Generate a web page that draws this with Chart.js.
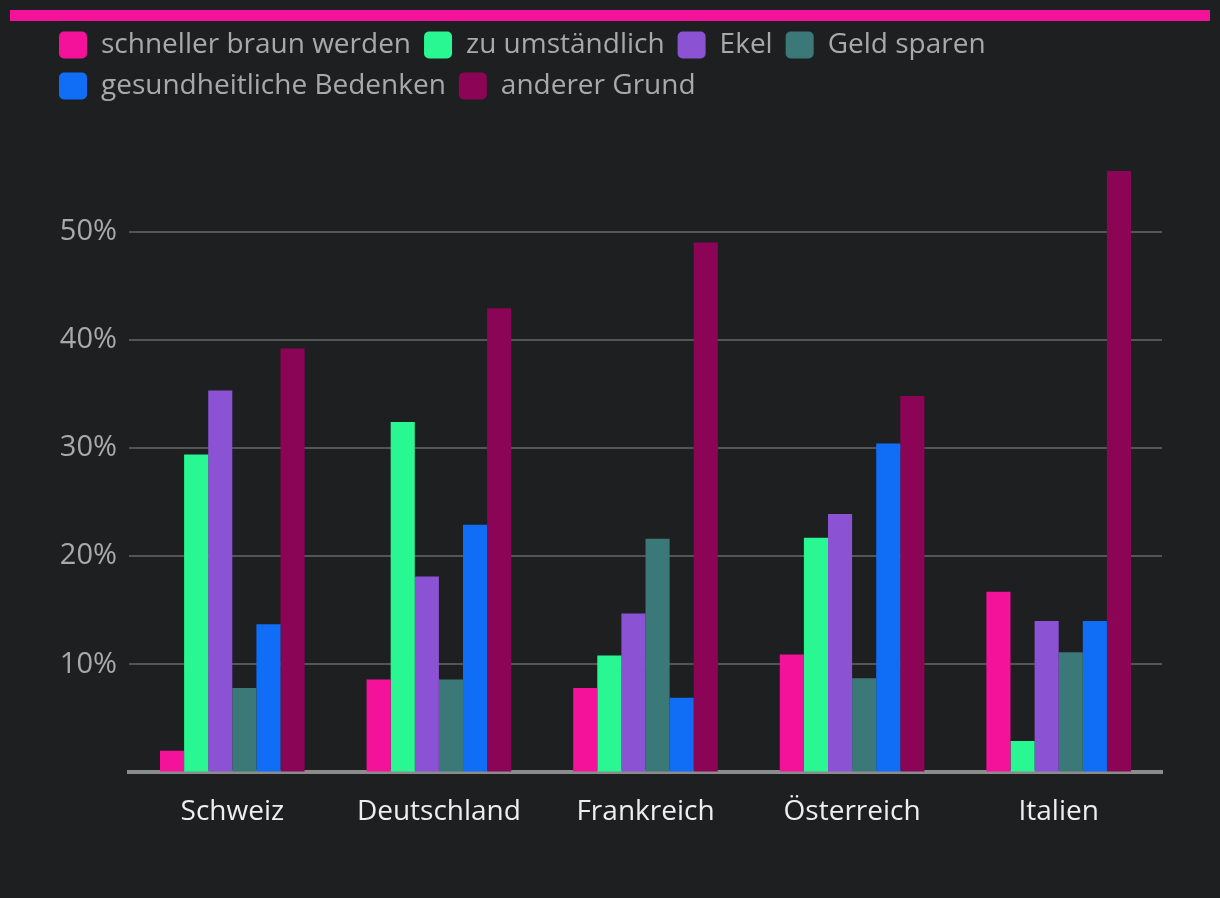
<!DOCTYPE html>
<html>
<head>
<meta charset="utf-8">
<script src="https://cdn.jsdelivr.net/npm/chart.js@4"></script>
<style>
    html, body { margin: 0; padding: 0; background: #1e1f21; }
    #wrap { position: relative; width: 1220px; height: 898px; }
    #topbar { position: absolute; left: 10px; top: 10px; width: 1200px; height: 11px; background: #f5129a; }
    canvas { position: absolute; left: 0; top: 0; }
</style>
</head>
<body>
<div id="wrap">
    <div id="topbar"></div>
    <canvas id="chart" width="1220" height="898"></canvas>
</div>
<script>
// --- data ---
const countries = ['Schweiz', 'Deutschland', 'Frankreich', 'Österreich', 'Italien'];
const schnellerBraun = [2.0, 8.6, 7.8, 10.9, 16.7];
const zuUmstaendlich = [29.4, 32.4, 10.8, 21.7, 2.9];
const ekel = [35.3, 18.1, 14.7, 23.9, 14.0];
const geldSparen = [7.8, 8.6, 21.6, 8.7, 11.1];
const gesundheit = [13.7, 22.9, 6.9, 30.4, 14.0];
const andererGrund = [39.2, 42.9, 49.0, 34.8, 55.6];

const seriesLabels = ['schneller braun werden', 'zu umständlich', 'Ekel', 'Geld sparen', 'gesundheitliche Bedenken', 'anderer Grund'];
const seriesValues = [schnellerBraun, zuUmstaendlich, ekel, geldSparen, gesundheit, andererGrund];
const seriesColors = ['#f5129a', '#29f792', '#8b52d3', '#3b7878', '#0f6ef5', '#8c0456'];

const yMax = Math.max(...seriesValues.flat());
const FONT = "'Open Sans', 'Noto Sans', sans-serif";

// legend spacing tweak: push the plot area down below the legend
const legendGap = {
    id: 'legendGap',
    beforeInit(chart) {
        const fit = chart.legend.fit;
        chart.legend.fit = function () {
            fit.call(this);
            this.height += 61;
        };
    }
};

new Chart(document.getElementById('chart'), {
    type: 'bar',
    data: {
        labels: countries,
        datasets: seriesLabels.map((label, i) => ({
            label: label,
            data: seriesValues[i],
            backgroundColor: seriesColors[i],
            barPercentage: 1.0,
            categoryPercentage: 0.7
        }))
    },
    options: {
        responsive: false,
        animation: false,
        layout: { padding: { left: 46, right: 58, top: 18, bottom: 54 } },
        plugins: {
            legend: {
                position: 'top',
                align: 'start',
                labels: {
                    boxWidth: 28,
                    boxHeight: 27,
                    padding: 13,
                    useBorderRadius: true,
                    borderRadius: 5,
                    color: '#a9a9a9',
                    font: { family: FONT, size: 28 }
                }
            },
            tooltip: { enabled: false }
        },
        scales: {
            x: {
                grid: { display: false },
                border: { display: true, color: '#8c8c8c', width: 4 },
                ticks: { color: '#eeeeee', padding: 15, font: { family: FONT, size: 28 } }
            },
            y: {
                min: 0,
                max: yMax,
                afterFit(scale) { scale.width = 83; },
                grid: { color: '#555555', lineWidth: 2, drawTicks: false },
                border: { display: false },
                ticks: {
                    stepSize: 10,
                    includeBounds: false,
                    padding: 12,
                    color: '#a9a9a9',
                    font: { family: FONT, size: 29 },
                    callback: v => v === 0 ? '' : v + '%'
                }
            }
        }
    },
    plugins: [legendGap]
});
</script>
</body>
</html>
